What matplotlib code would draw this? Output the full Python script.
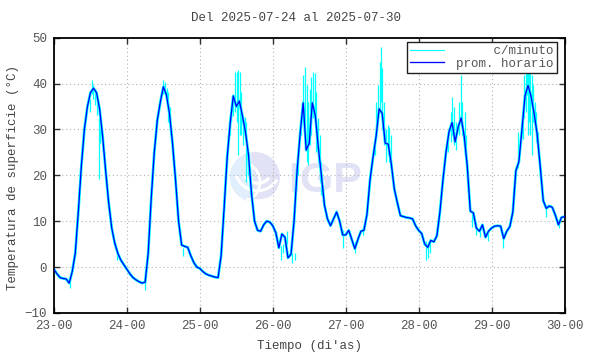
import numpy as np
import matplotlib
matplotlib.use("Agg")
import matplotlib.pyplot as plt
from matplotlib.patches import Circle, Wedge, Arc

# ---------------- data ----------------
day_labels = ["23-00", "24-00", "25-00", "26-00", "27-00", "28-00", "29-00", "30-00"]

# hourly averages (prom. horario), hours 0..23 for each day
d23 = [-0.5, -1.5, -2.3, -2.5, -2.6, -3.5, -1.0, 3.0, 12.0, 22.0, 30.0, 35.0,
       38.0, 39.0, 38.0, 34.5, 28.5, 21.0, 14.0, 8.5, 5.2, 3.0, 1.5, 0.5]
d24 = [-0.5, -1.5, -2.3, -2.8, -3.2, -3.5, -3.3, 3.0, 15.0, 25.0, 32.0, 36.0,
       39.3, 37.5, 33.5, 27.0, 19.0, 10.0, 4.8, 4.5, 4.3, 2.5, 1.0, 0.0]
d25 = [-0.3, -1.0, -1.5, -1.8, -2.0, -2.2, -2.3, 2.5, 13.0, 24.0, 31.5, 37.3,
       35.0, 36.2, 33.0, 29.5, 24.5, 16.0, 10.0, 8.0, 7.8, 9.2, 10.0, 9.8]
d26 = [9.0, 7.5, 4.2, 7.2, 6.5, 2.0, 2.8, 10.0, 21.0, 29.0, 35.8, 25.5,
       27.0, 35.8, 33.0, 26.0, 20.0, 13.5, 10.5, 9.0, 10.5, 12.0, 10.0, 7.0]
d27 = [7.0, 8.0, 6.0, 4.0, 6.0, 7.8, 8.0, 11.5, 19.0, 24.0, 28.5, 34.5,
       33.5, 27.0, 26.8, 22.5, 17.0, 14.0, 11.2, 11.0, 10.8, 10.7, 10.5, 9.0]
d28 = [8.0, 7.3, 5.0, 4.3, 5.8, 5.5, 6.8, 12.0, 19.0, 25.0, 29.5, 31.5,
       27.3, 30.5, 32.5, 28.5, 22.0, 12.2, 11.8, 8.5, 7.8, 9.2, 6.5, 7.8]
d29 = [8.5, 8.9, 9.0, 8.9, 6.2, 7.8, 8.8, 12.0, 21.0, 23.0, 30.0, 37.3,
       39.6, 37.2, 33.5, 29.0, 22.0, 14.5, 12.8, 13.3, 13.0, 11.3, 9.2, 10.8]
d30 = [11.0]

# per-minute excursions: (hour from 23-00, low, high)
minute_t = [5.3, 11.8, 12.4, 12.9, 13.5, 14.0, 14.9, 15.3, 20.6, 29.9,
            36.0, 36.5, 37.1, 37.6, 38.2, 42.5,
            57.9, 58.4, 59.0, 59.5, 60.1, 60.6, 61.2, 61.7, 62.3, 62.8, 63.3, 63.9,
            74.8, 75.4, 76.7, 78.4, 79.2, 80.3, 81.4, 82.0, 82.5, 83.1, 83.6, 84.1,
            84.7, 85.2, 85.8, 86.3, 86.9, 87.4, 87.9,
            95.2, 99.0, 101.7, 105.6, 106.1, 106.7, 107.2, 107.7, 108.1, 108.7,
            109.2, 109.8, 110.3, 110.8,
            122.4, 123.0, 123.7, 129.7, 130.5, 131.1, 131.8, 132.4, 133.2, 133.9,
            134.4, 135.1, 135.7, 137.7, 139.0, 140.1, 142.9,
            147.8, 152.2, 152.7, 154.2, 154.7, 155.2, 155.5, 155.9, 156.4, 156.8,
            157.2, 157.6, 158.2, 158.7, 159.3, 162.0, 166.2]
minute_lo = [-4.6, 33.8, 37.8, 36.7, 35.3, 33.1, 19.3, 27.0, 1.5, -4.9,
             37.8, 37.5, 36.0, 31.7, 29.0, 2.3,
             28.8, 31.7, 33.0, 33.8, 31.7, 24.4, 28.8, 28.8, 26.6, 28.8, 18.6, 20.0,
             1.6, 3.0, 5.0, 0.9, 1.5, 20.0, 28.8, 33.0, 28.8, 23.0, 22.2, 26.6,
             28.8, 32.4, 31.7, 25.1, 23.0, 18.6, 15.7,
             4.1, 3.0, 7.0, 24.4, 28.8, 32.4, 33.8, 36.0, 30.2, 26.6,
             23.0, 24.4, 23.0, 21.5,
             1.6, 2.0, 3.0, 25.1, 27.3, 28.8, 26.6, 25.5, 28.8, 30.9,
             28.8, 24.4, 23.0, 8.8, 7.0, 6.5, 5.6,
             4.1, 20.0, 21.5, 28.0, 32.4, 33.8, 37.5, 28.8, 31.7, 28.8,
             24.4, 31.7, 30.2, 27.3, 26.6, 11.0, 8.5]
minute_hi = [-2.4, 36.7, 40.7, 39.6, 38.5, 37.1, 32.4, 30.0, 3.5, -2.4,
             40.7, 40.3, 39.0, 38.2, 35.0, 4.1,
             31.7, 34.0, 37.5, 42.5, 42.5, 42.9, 42.5, 38.2, 33.0, 32.8, 31.7, 25.0,
             4.5, 5.0, 7.8, 3.0, 3.0, 25.0, 32.0, 41.8, 43.6, 39.6, 36.0, 38.9,
             41.4, 42.5, 42.2, 38.2, 32.4, 28.8, 23.0,
             8.0, 5.5, 9.0, 26.6, 36.0, 39.6, 44.7, 48.0, 43.3, 36.0,
             30.2, 31.0, 30.6, 28.8,
             5.6, 5.0, 5.5, 28.8, 33.8, 37.1, 34.9, 31.7, 36.0, 41.8,
             36.0, 33.8, 28.8, 12.1, 9.9, 8.5, 7.8,
             7.0, 22.0, 29.5, 32.4, 41.8, 46.0, 47.5, 47.0, 46.0, 44.7,
             41.8, 39.6, 36.0, 33.8, 29.5, 13.6, 10.3]

hourly = np.array(d23 + d24 + d25 + d26 + d27 + d28 + d29 + d30)
hours = np.arange(len(hourly))

# ---------------- figure ----------------
plt.rcParams['font.family'] = ['Liberation Mono', 'DejaVu Sans Mono']
plt.rcParams['font.size'] = 9

W, H = 590, 354
fig = plt.figure(figsize=(W / 100, H / 100), dpi=100)
fig.patch.set_facecolor('white')

x0, x1, y0, y1 = 54, 564.5, 37.7, 312.9
ax = fig.add_axes([x0 / W, 1 - y1 / H, (x1 - x0) / W, (y1 - y0) / H])
ax.patch.set_visible(False)

# watermark logo (behind everything)
lax = fig.add_axes([230 / W, 1 - 202 / H, 50 / W, 50 / H], zorder=-2)
lax.set_xlim(-1, 1); lax.set_ylim(-1, 1); lax.set_aspect('equal'); lax.axis('off')
lax.add_patch(Circle((0, 0), 1.0, color='#e2e2f6', lw=0))
lax.add_patch(Wedge((0, 0), 1.0, 100, 250, color='#e1effc', lw=0))
for r, t1, t2 in [(0.9, 200, 330), (0.6, 210, 320), (1.3, 250, 300)]:
    lax.add_patch(Arc((0.1, 0.35), 2 * r, 2 * r, theta1=t1, theta2=t2,
                      color='white', lw=2.2))
lax.add_patch(Arc((-0.6, -0.2), 1.6, 1.6, theta1=-60, theta2=60, color='white', lw=2.0))
fig.text(288 / W, 1 - 192 / H, "IGP", family='Liberation Sans', weight='bold',
         fontsize=31, color='#e2e2f6', ha='left', va='baseline', zorder=-1)

# data
ax.vlines(minute_t, minute_lo, minute_hi, color='#00ffff', lw=0.9, zorder=2)
ax.plot(hours, hourly, color='#00ffff', lw=2.0, zorder=2, solid_joinstyle='round')
ax.plot([], [], color='#00ffff', lw=0.8, label='     c/minuto')
ax.plot(hours, hourly, color='#0000ff', lw=0.95, zorder=3, label='prom. horario')

ax.set_xlim(0, 168)
ax.set_ylim(-10, 50)
ax.set_xticks(np.arange(0, 169, 24))
ax.set_xticklabels(day_labels)
ax.set_yticks(np.arange(-10, 51, 10))
ax.grid(True, color='#b4b4b4', linestyle=(0, (1, 2.5)), lw=0.8)
ax.tick_params(direction='in', length=4.5, width=1, top=True, right=True,
               colors='#303030', labelcolor='#555555')
ax.tick_params(axis='y', pad=5)
ax.tick_params(axis='x', pad=5)
for s in ax.spines.values():
    s.set_linewidth(1.3)
    s.set_color('black')

leg = ax.legend(loc='upper right', bbox_to_anchor=((557 - x0) / (x1 - x0), (y1 - 42) / (y1 - y0)),
                borderaxespad=0, fancybox=False, framealpha=1, edgecolor='#202020',
                handlelength=2.7, handletextpad=1.0, labelspacing=0.05, borderpad=0.25,
                fontsize=9)
leg.get_frame().set_linewidth(1.0)
for t in leg.get_texts():
    t.set_color('#555555')

fig.text(296 / W, 1 - 18 / H, "Del 2025-07-24 al 2025-07-30", ha='center', va='center',
         color='#444444')
fig.text((x0 + x1) / 2 / W, 1 - 346 / H, "Tiempo (di'as)", ha='center', va='center',
         color='#444444')
fig.text(13 / W, 1 - 178 / H, "Temperatura de superficie (°C)", ha='center', va='center',
         rotation=90, color='#444444')

fig.savefig('out.png', dpi=100, facecolor='white')
